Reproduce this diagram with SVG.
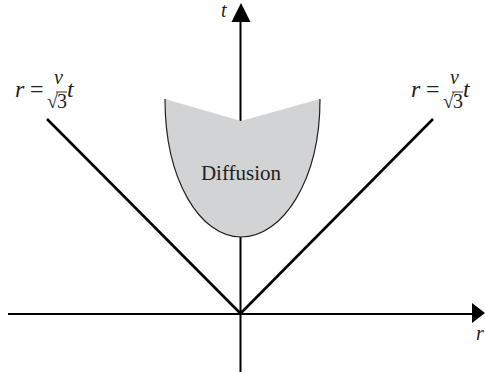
<svg xmlns="http://www.w3.org/2000/svg" width="485" height="373" viewBox="0 0 485 373">
<style>
.ax{stroke:#000;stroke-width:2;fill:none}
.dg{stroke:#000;stroke-width:2.6;fill:none}
.it{font-family:"Liberation Serif","Times New Roman",serif;font-style:italic;fill:#231f20}
.rm{font-family:"Liberation Serif","Times New Roman",serif;fill:#231f20}
</style>
<rect width="485" height="373" fill="#fff"/>
<g id="connectors">
<line class="ax" x1="240.5" y1="372" x2="240.5" y2="20"/>
<polygon points="241,3 231.5,22 250.5,22" fill="#000"/>
<line class="ax" x1="8" y1="314" x2="474" y2="314"/>
<polygon points="485,313 472,303 472,323" fill="#000"/>
<line class="dg" x1="47" y1="119" x2="241" y2="314"/>
<line class="dg" x1="433" y1="119" x2="240" y2="314"/>
</g>
<g id="diffusion">
<path d="M165,99 C165,180 200,237 241,237 C283,237 320,180 320,99 L241,121 Z" fill="#d1d3d4"/>
<path d="M165,99 C165,180 200,237 241,237 C283,237 320,180 320,99" fill="none" stroke="#231f20" stroke-width="1.2"/>
<text class="rm" x="241" y="180" font-size="21" text-anchor="middle">Diffusion</text>
</g>
<g id="label-t">
<text class="it" x="221" y="17" font-size="20">t</text>
</g>
<g id="label-r">
<text class="it" x="476" y="340" font-size="20">r</text>
</g>
<g id="eq-left">
<text class="it" x="15" y="97" font-size="24">r</text>
<text class="rm" x="30" y="97" font-size="24">=</text>
<text class="it" x="54" y="84" font-size="20">v</text>
<text class="rm" x="47" y="108" font-size="20">√</text>
<line x1="56" y1="92" x2="67" y2="92" stroke="#231f20" stroke-width="0.9"/>
<text class="rm" x="57" y="108" font-size="20">3</text>
<text class="it" x="67" y="97" font-size="24">t</text>
</g>
<g id="eq-right">
<text class="it" x="411" y="97" font-size="24">r</text>
<text class="rm" x="426" y="97" font-size="24">=</text>
<text class="it" x="450" y="84" font-size="20">v</text>
<text class="rm" x="443" y="108" font-size="20">√</text>
<line x1="452" y1="92" x2="463" y2="92" stroke="#231f20" stroke-width="0.9"/>
<text class="rm" x="453" y="108" font-size="20">3</text>
<text class="it" x="463" y="97" font-size="24">t</text>
</g>
</svg>
